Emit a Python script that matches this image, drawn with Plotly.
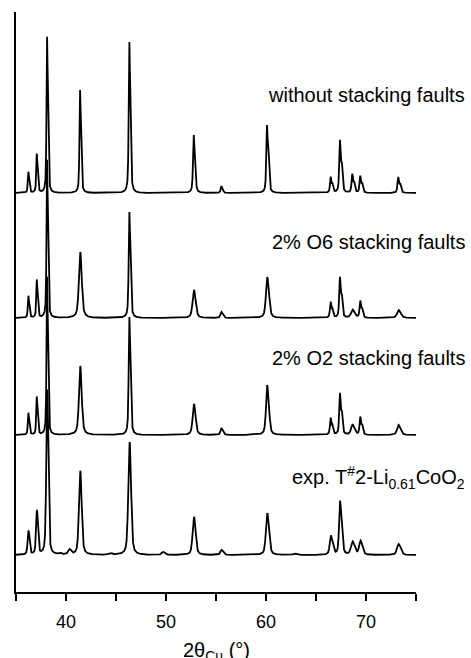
import numpy as np
import plotly.graph_objects as go

# ---- data ----
peak_pos = [36.23, 37.07, 38.10, 41.40, 46.33, 52.77, 55.53, 60.10, 66.47, 67.40, 68.63, 69.43, 73.23]
extra_pos = [39.33, 40.33, 44.40, 49.67, 62.83]

h_without = [21, 39, 156, 103, 151, 58, 7, 68, 16, 53, 19, 17, 16]
h_o6 = [22, 38, 158, 66, 106, 28, 6, 41, 16, 41, 8, 17, 8]
h_o2 = [22, 38, 158, 69, 118, 31, 7, 50, 17, 42, 10, 18, 10]
h_exp = [24, 44, 165, 84, 113, 38, 5, 42, 19, 54, 13, 14, 11]
h_exp_extra = [1.5, 5, 1.5, 3, 1.5]

w_without = [0.12, 0.12, 0.12, 0.13, 0.14, 0.16, 0.15, 0.16, 0.16, 0.17, 0.17, 0.17, 0.18]
w_o6 = [0.12, 0.12, 0.12, 0.30, 0.15, 0.30, 0.20, 0.28, 0.17, 0.17, 0.35, 0.17, 0.35]
w_o2 = [0.12, 0.12, 0.12, 0.28, 0.15, 0.28, 0.20, 0.25, 0.17, 0.17, 0.32, 0.17, 0.32]
w_exp = [0.18, 0.18, 0.20, 0.28, 0.28, 0.30, 0.25, 0.30, 0.25, 0.22, 0.35, 0.30, 0.35]
w_exp_extra = [0.3, 0.3, 0.3, 0.3, 0.3]

labels = ["without stacking faults", "2% O6 stacking faults", "2% O2 stacking faults",
          "exp. T<sup>#</sup>2-Li<sub>0.61</sub>CoO<sub>2</sub>"]
x_title = "2θ<sub>Cu</sub> (°)"
tick_vals = [35, 40, 45, 50, 55, 60, 65, 70, 75]
tick_text = ["", "40", "", "50", "", "60", "", "70", ""]

# ---- layout constants ----
offsets = [399, 274, 157, 37]
label_y = [0.857, 0.603, 0.403, 0.197]

x = np.linspace(35, 75, 4001)
ratio = 1.54439 / 1.54056


def profile(pos, h, w, eta=0.6):
    y = np.zeros_like(x)
    for p, hh, ww in zip(pos, h, w):
        th = np.radians(p / 2)
        p2 = 2 * np.degrees(np.arcsin(np.sin(th) * ratio))
        comp = np.zeros_like(x)
        for c, a in ((p, 1.0), (p2, 0.5)):
            d = (x - c) / (ww / 2)
            comp += a * (eta / (1 + d ** 2) + (1 - eta) * np.exp(-np.log(2) * d ** 2))
        y += hh * comp / comp.max()
    return y


curves = [
    profile(peak_pos, h_without, w_without),
    profile(peak_pos, h_o6, w_o6),
    profile(peak_pos, h_o2, w_o2),
    profile(peak_pos + extra_pos, h_exp + h_exp_extra, w_exp + w_exp_extra, eta=0.5),
]

fig = go.Figure()
for c, off in zip(curves, offsets):
    fig.add_trace(go.Scatter(x=x, y=c + off, mode="lines",
                             line=dict(color="black", width=1.8),
                             hoverinfo="skip", showlegend=False))

font = dict(family="Arial, Liberation Sans, sans-serif", color="black")
for lab, ly in zip(labels, label_y):
    fig.add_annotation(text=lab, xref="paper", yref="paper", x=1.1275, y=ly,
                       xanchor="right", yanchor="middle", showarrow=False,
                       font=dict(size=20, **font))

# x-axis title placed as text so it can sit partly below the page edge, as in the original
fig.add_annotation(text=x_title, xref="paper", yref="paper", x=0.5, y=-0.078,
                   xanchor="center", yanchor="top", showarrow=False,
                   font=dict(size=20, **font))

fig.update_layout(
    width=471, height=658,
    margin=dict(l=16, r=55, t=12, b=66),
    plot_bgcolor="white", paper_bgcolor="white",
    font=font,
    xaxis=dict(range=[35, 75], showgrid=False, zeroline=False, automargin=False,
               showline=True, linecolor="black", linewidth=1.5,
               ticks="outside", ticklen=7, tickwidth=1.5, tickcolor="black",
               tickvals=tick_vals, ticktext=tick_text,
               tickfont=dict(size=18), ticklabelstandoff=6),
    yaxis=dict(range=[0, 580], showgrid=False, zeroline=False, automargin=False,
               showline=True, linecolor="black", linewidth=1.5,
               showticklabels=False, ticks=""),
)

fig.write_html("out.html")
